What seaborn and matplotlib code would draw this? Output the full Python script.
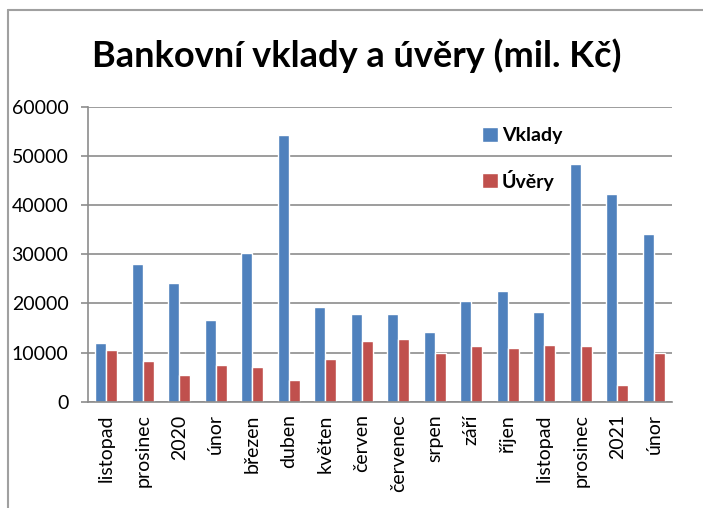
import matplotlib as mtl
mtl.use('Agg')
import matplotlib.pyplot as plt
from matplotlib.lines import Line2D
import pandas as pd
import seaborn as sns

# data
months = ['listopad', 'prosinec', '2020', 'únor', 'březen', 'duben', 'květen',
          'červen', 'červenec', 'srpen', 'září', 'říjen', 'listopad',
          'prosinec', '2021', 'únor']
vklady = [12000, 28000, 24100, 16600, 30300, 54300, 19200, 17800, 17800,
          14200, 20500, 22500, 18200, 48300, 42200, 34200]
uvery = [10600, 8300, 5400, 7400, 7000, 4400, 8700, 12300, 12700,
         10000, 11300, 11000, 11600, 11300, 3400, 10000]

series = ['Vklady', 'Úvěry']
colors = ['#4F81BD', '#C0504D']

df = pd.DataFrame({
    'pos': list(range(len(months))) * 2,
    'value': vklady + uvery,
    'series': [series[0]] * len(months) + [series[1]] * len(months),
})

sns.set_style('white')
plt.rcParams['font.family'] = ['Lato', 'DejaVu Sans']
plt.rcParams['text.color'] = 'black'
plt.rcParams['xtick.labelcolor'] = 'black'
plt.rcParams['ytick.labelcolor'] = 'black'

fig = plt.figure(figsize=(7.03, 5.08), dpi=100)
ax = fig.add_axes([0.125, 0.209, 0.831, 0.581])

sns.barplot(data=df, x='pos', y='value', hue='series', palette=colors,
            width=0.6, saturation=1, ax=ax, legend=True)

ax.set_ylim(0, 60000)
ax.set_xlim(-0.5, len(months) - 0.5)
ax.set_yticks(range(0, 60001, 10000))
ax.yaxis.grid(True, color='#8C8C8C', linewidth=1.2)
ax.set_axisbelow(True)
for s in ['top', 'right']:
    ax.spines[s].set_visible(False)
for s in ['left', 'bottom']:
    ax.spines[s].set_color('#8C8C8C')
    ax.spines[s].set_linewidth(1.2)

ax.set_xticks(range(len(months)))
ax.set_xticklabels(months, rotation=90, fontsize=14)
ax.set_xticks([i - 0.5 for i in range(len(months) + 1)], minor=True)
ax.tick_params(axis='x', which='major', length=0, pad=9)
ax.tick_params(axis='x', which='minor', length=5, color='#8C8C8C', width=1.2)
ax.tick_params(axis='y', length=5, color='#8C8C8C', width=1.2, labelsize=14,
               left=True, pad=9)
ax.set_xlabel('')
ax.set_ylabel('')

leg = ax.legend(loc='upper left', bbox_to_anchor=(0.645, 0.99), frameon=False,
                prop={'weight': 'bold', 'size': 14}, handlelength=0.8,
                handleheight=0.8, handletextpad=0.2, labelspacing=1.3)

fig.text(0.508, 0.89, 'Bankovní vklady a úvěry (mil. Kč)', ha='center',
         va='center', fontsize=26, fontweight='bold')

# chart border
fig.add_artist(Line2D([0.0114, 0.0114], [0, 0.980], color='#A0A0A0', lw=1.5))
fig.add_artist(Line2D([0.0114, 1], [0.980, 0.980], color='#A0A0A0', lw=1.5))

fig.savefig('out.png', dpi=100)
